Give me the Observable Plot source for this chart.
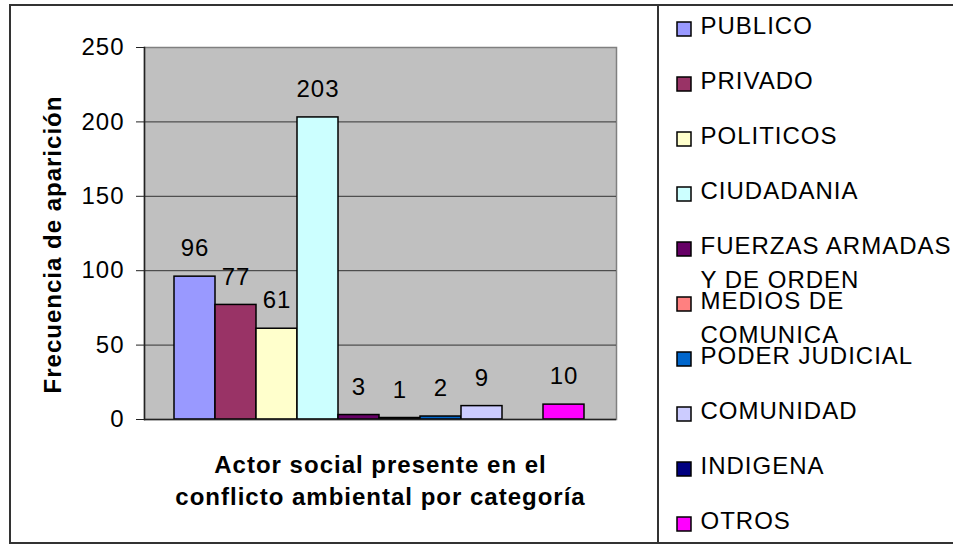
<!DOCTYPE html>
<html>
<head>
<meta charset="utf-8">
<script src="https://cdn.jsdelivr.net/npm/d3@7"></script>
<script src="https://cdn.jsdelivr.net/npm/@observablehq/plot@0.6"></script>
<style>
  html, body { margin: 0; padding: 0; background: #fff; }
  #wrap { position: relative; width: 953px; height: 545px; overflow: hidden; background: #fff;
          font-family: "Liberation Sans", Arial, sans-serif; }
  #wrap svg text { letter-spacing: 1px; }
  #border { position: absolute; left: 9px; top: 4px; width: 980px; height: 536px; border: 2px solid #333; box-sizing: content-box; }
  #divider { position: absolute; left: 657px; top: 4px; width: 2px; height: 540px; background: #333; }
  #main { position: absolute; left: 0; top: 0; }
  #legend { position: absolute; left: 659px; top: 0; }
</style>
</head>
<body>
<div id="wrap">
  <div id="border"></div>
  <div id="divider"></div>
  <div id="main"></div>
  <div id="legend"></div>
</div>
<script>
const categories = ["PUBLICO", "PRIVADO", "POLITICOS", "CIUDADANIA", "FUERZAS ARMADAS Y DE ORDEN",
  "MEDIOS DE COMUNICA", "PODER JUDICIAL", "COMUNIDAD", "INDIGENA", "OTROS"];
const values = [96, 77, 61, 203, 3, 1, 2, 9, null, 10];
const colors = ["#9999FF", "#993366", "#FFFFCC", "#CCFFFF", "#660066",
  "#FF8080", "#0066CC", "#CCCCFF", "#000080", "#FF00FF"];
const legendLabels = ["PUBLICO", "PRIVADO", "POLITICOS", "CIUDADANIA", "FUERZAS ARMADAS\nY DE ORDEN",
  "MEDIOS DE\nCOMUNICA", "PODER JUDICIAL", "COMUNIDAD", "INDIGENA", "OTROS"];
const yTicks = [0, 50, 100, 150, 200, 250];
const gridTicks = [50, 100, 150, 200];
const yTitle = "Frecuencia de aparición";
const xTitle = "Actor social presente en el\nconflicto ambiental por categoría";

const data = categories.map((c, i) => ({category: c, value: values[i], label: legendLabels[i]}));
const present = data.filter(d => d.value != null);
const font = "'Liberation Sans', Arial, sans-serif";

const main = Plot.plot({
  width: 660, height: 545,
  marginLeft: 144, marginRight: 44, marginTop: 47, marginBottom: 126,
  x: {type: "band", domain: categories, padding: 0, insetLeft: 30, insetRight: 32, axis: null},
  y: {domain: [0, 250], axis: null},
  color: {domain: categories, range: colors},
  style: {fontFamily: font, fontSize: "24px", color: "#000", background: "transparent", overflow: "visible"},
  marks: [
    Plot.frame({fill: "#c0c0c0", stroke: "#808080", strokeWidth: 1.5}),
    Plot.ruleY(gridTicks, {stroke: "#333", strokeWidth: 1}),
    Plot.barY(present, {x: "category", y: "value", fill: "category", stroke: "#000", strokeWidth: 1.5}),
    Plot.frame({anchor: "left", stroke: "#222", strokeWidth: 1.5}),
    Plot.ruleY([0], {stroke: "#222", strokeWidth: 1.5}),
    Plot.axisY(yTicks, {tickSize: 8, tickPadding: 12, fontSize: 24, stroke: "#222", fill: "#000", label: null}),
    Plot.text(present, {x: "category", y: "value", text: d => String(d.value), dy: -28, fontSize: 24, fill: "#000"}),
    Plot.text([yTitle], {text: d => d, frameAnchor: "left", dx: -91, dy: 11, rotate: -90,
      textAnchor: "middle", lineAnchor: "middle", fontWeight: "bold", fontSize: 24, fill: "#000"}),
    Plot.text([xTitle], {text: d => d, frameAnchor: "bottom", dy: 59, lineHeight: 1.33,
      textAnchor: "middle", lineAnchor: "middle", fontWeight: "bold", fontSize: 24, fill: "#000"})
  ]
});
document.getElementById("main").appendChild(main);

const legend = Plot.plot({
  width: 294, height: 545, margin: 0,
  y: {type: "point", domain: categories, range: [21, 523], padding: 0, axis: null},
  color: {domain: categories, range: colors},
  style: {fontFamily: font, fontSize: "24px", color: "#000", background: "transparent", overflow: "visible"},
  marks: [
    Plot.dot(data, {y: "category", frameAnchor: "left", dx: 24.5, dy: 3.5, symbol: "square", r: 7.9,
      fill: "category", stroke: "#000", strokeWidth: 1.5}),
    Plot.text(data, {y: "category", text: "label", frameAnchor: "left", dx: 41, dy: -16,
      textAnchor: "start", lineAnchor: "top", lineHeight: 1.42, fontSize: 24, fill: "#000"})
  ]
});
document.getElementById("legend").appendChild(legend);
</script>
</body>
</html>
